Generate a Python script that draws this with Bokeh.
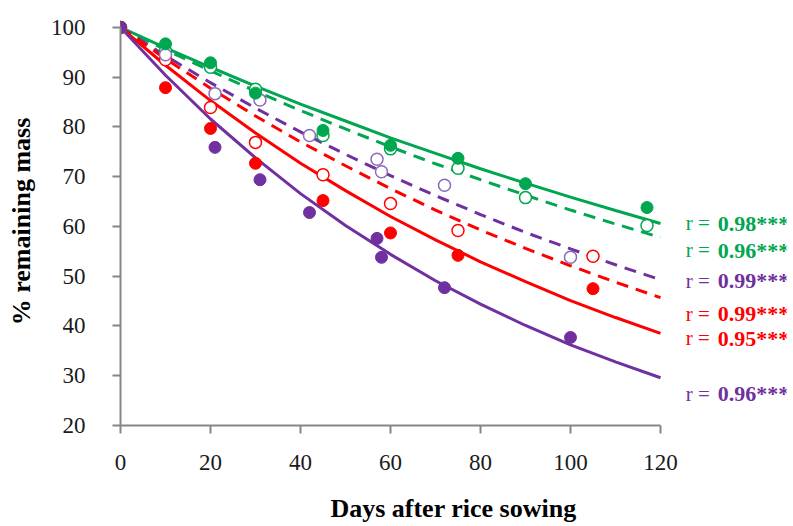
from bokeh.plotting import figure
from bokeh.models import Range1d, FixedTicker
from bokeh.core.properties import value
from bokeh.embed import file_html
from bokeh.resources import INLINE

# ---- data ----
days_curve = [0, 10, 20, 30, 40, 50, 60, 70, 80, 90, 100, 110, 120]
green_solid = [100, 95.9, 92.0, 88.2, 84.6, 81.2, 77.8, 74.7, 71.6, 68.7, 65.9, 63.2, 60.6]
green_dash = [100, 95.5, 91.3, 87.2, 83.3, 79.6, 76.0, 72.6, 69.4, 66.3, 63.3, 60.5, 57.8]
purple_dash = [100, 94.3, 88.9, 83.8, 79.0, 74.5, 70.2, 66.2, 62.4, 58.8, 55.5, 52.3, 49.3]
red_dash = [100, 93.7, 87.8, 82.2, 77.0, 72.2, 67.6, 63.3, 59.3, 55.6, 52.1, 48.8, 45.7]
red_solid = [100, 92.4, 85.3, 78.8, 72.7, 67.2, 62.0, 57.3, 52.9, 48.9, 45.1, 41.7, 38.5]
purple_solid = [100, 90.4, 81.6, 73.8, 66.6, 60.2, 54.4, 49.1, 44.4, 40.1, 36.2, 32.8, 29.6]

green_filled_x = [0, 10, 20, 30, 45, 60, 75, 90, 117]
green_filled_y = [100, 96.7, 92.9, 86.8, 79.3, 76.3, 73.7, 68.6, 63.8]
green_open_x = [0, 10, 20, 30, 45, 60, 75, 90, 117]
green_open_y = [100, 95.3, 92.0, 87.6, 78.3, 75.6, 71.7, 65.8, 60.2]

red_filled_x = [0, 10, 20, 30, 45, 60, 75, 105]
red_filled_y = [100, 87.9, 79.7, 72.7, 65.2, 58.7, 54.2, 47.5]
red_open_x = [0, 10, 20, 30, 45, 60, 75, 105]
red_open_y = [100, 93.5, 83.9, 76.9, 70.4, 64.6, 59.2, 54.0]

purple_filled_x = [0, 21, 31, 42, 57, 58, 72, 100]
purple_filled_y = [100, 75.9, 69.4, 62.8, 57.6, 53.8, 47.7, 37.7]
purple_open_x = [0, 10, 21, 31, 42, 57, 58, 72, 100]
purple_open_y = [100, 94.5, 86.7, 85.4, 78.3, 73.5, 71.0, 68.3, 53.8]

r_labels = ["0.98***", "0.96***", "0.99***", "0.99***", "0.95***", "0.96***"]
x_ticks = [0, 20, 40, 60, 80, 100, 120]
y_ticks = [20, 30, 40, 50, 60, 70, 80, 90, 100]

# ---- styles / layout ----
GREEN = "#00a650"
RED = "#ff0000"
PURPLE = "#7030a0"
label_colors = [GREEN, GREEN, PURPLE, RED, RED, PURPLE]
label_y = [60.6, 55.2, 49.1, 42.5, 37.5, 26.4]
label_x = [125.6] * 6
SERIF = "Liberation Serif"

p = figure(width=793, height=526, output_backend="svg",
           toolbar_location=None, x_range=Range1d(0, 148), y_range=Range1d(20, 102),
           min_border_left=120, min_border_right=7, min_border_top=17, min_border_bottom=101)
p.outline_line_color = None
p.xgrid.visible = False
p.ygrid.visible = False
p.background_fill_color = "white"
p.border_fill_color = "white"

for ax, ticks, bnds in ((p.xaxis, x_ticks, (0, 120)), (p.yaxis, y_ticks, (20, 100))):
    ax.ticker = FixedTicker(ticks=ticks)
    ax.bounds = bnds
    ax.minor_tick_line_color = None
    ax.axis_line_color = "#868686"
    ax.axis_line_width = 2
    ax.major_tick_line_color = "#868686"
    ax.major_tick_line_width = 2
    ax.major_tick_out = 8
    ax.major_tick_in = 0
    ax.major_label_text_font = SERIF
    ax.major_label_text_font_size = "23px"
    ax.major_label_text_color = "#1a1a1a"
    ax.axis_label_text_font = SERIF
    ax.axis_label_text_font_style = "bold"
    ax.axis_label_text_font_size = "26px"
    ax.axis_label_text_color = "black"

p.xaxis.axis_label = "Days after rice sowing"
p.yaxis.axis_label = "% remaining mass"
p.xaxis.major_label_standoff = 21
p.yaxis.major_label_standoff = 27
p.xaxis.axis_label_standoff = 21
p.yaxis.axis_label_standoff = 12

# curves
p.line(days_curve, green_solid, line_color=GREEN, line_width=3)
p.line(days_curve, green_dash, line_color=GREEN, line_width=3, line_dash="12 8")
p.line(days_curve, purple_dash, line_color=PURPLE, line_width=3, line_dash="12 8")
p.line(days_curve, red_dash, line_color=RED, line_width=3, line_dash="12 8")
p.line(days_curve, red_solid, line_color=RED, line_width=3)
p.line(days_curve, purple_solid, line_color=PURPLE, line_width=3)

# markers
p.scatter(green_open_x, green_open_y, size=12, fill_color="white", line_color=GREEN, line_width=1.5)
p.scatter(red_open_x, red_open_y, size=12, fill_color="white", line_color=RED, line_width=1.5)
p.scatter(purple_open_x, purple_open_y, size=12, fill_color="white", line_color="#8a6cb8", line_width=1.5)
p.scatter(green_filled_x, green_filled_y, size=12, fill_color=GREEN, line_color=GREEN)
p.scatter(red_filled_x, red_filled_y, size=12, fill_color=RED, line_color=RED)
p.scatter(purple_filled_x, purple_filled_y, size=12, fill_color=PURPLE, line_color=PURPLE)

# r annotations
p.text(x=label_x, y=label_y, text=["r ="] * 6, text_color=label_colors,
       text_font=value(SERIF), text_font_size="21px", text_baseline="middle")
p.text(x=label_x, y=label_y, text=r_labels, x_offset=32, text_color=label_colors,
       text_font=value(SERIF), text_font_size="22px", text_font_style="bold",
       text_baseline="middle")

open("out.html", "w").write(file_html(p, INLINE))
